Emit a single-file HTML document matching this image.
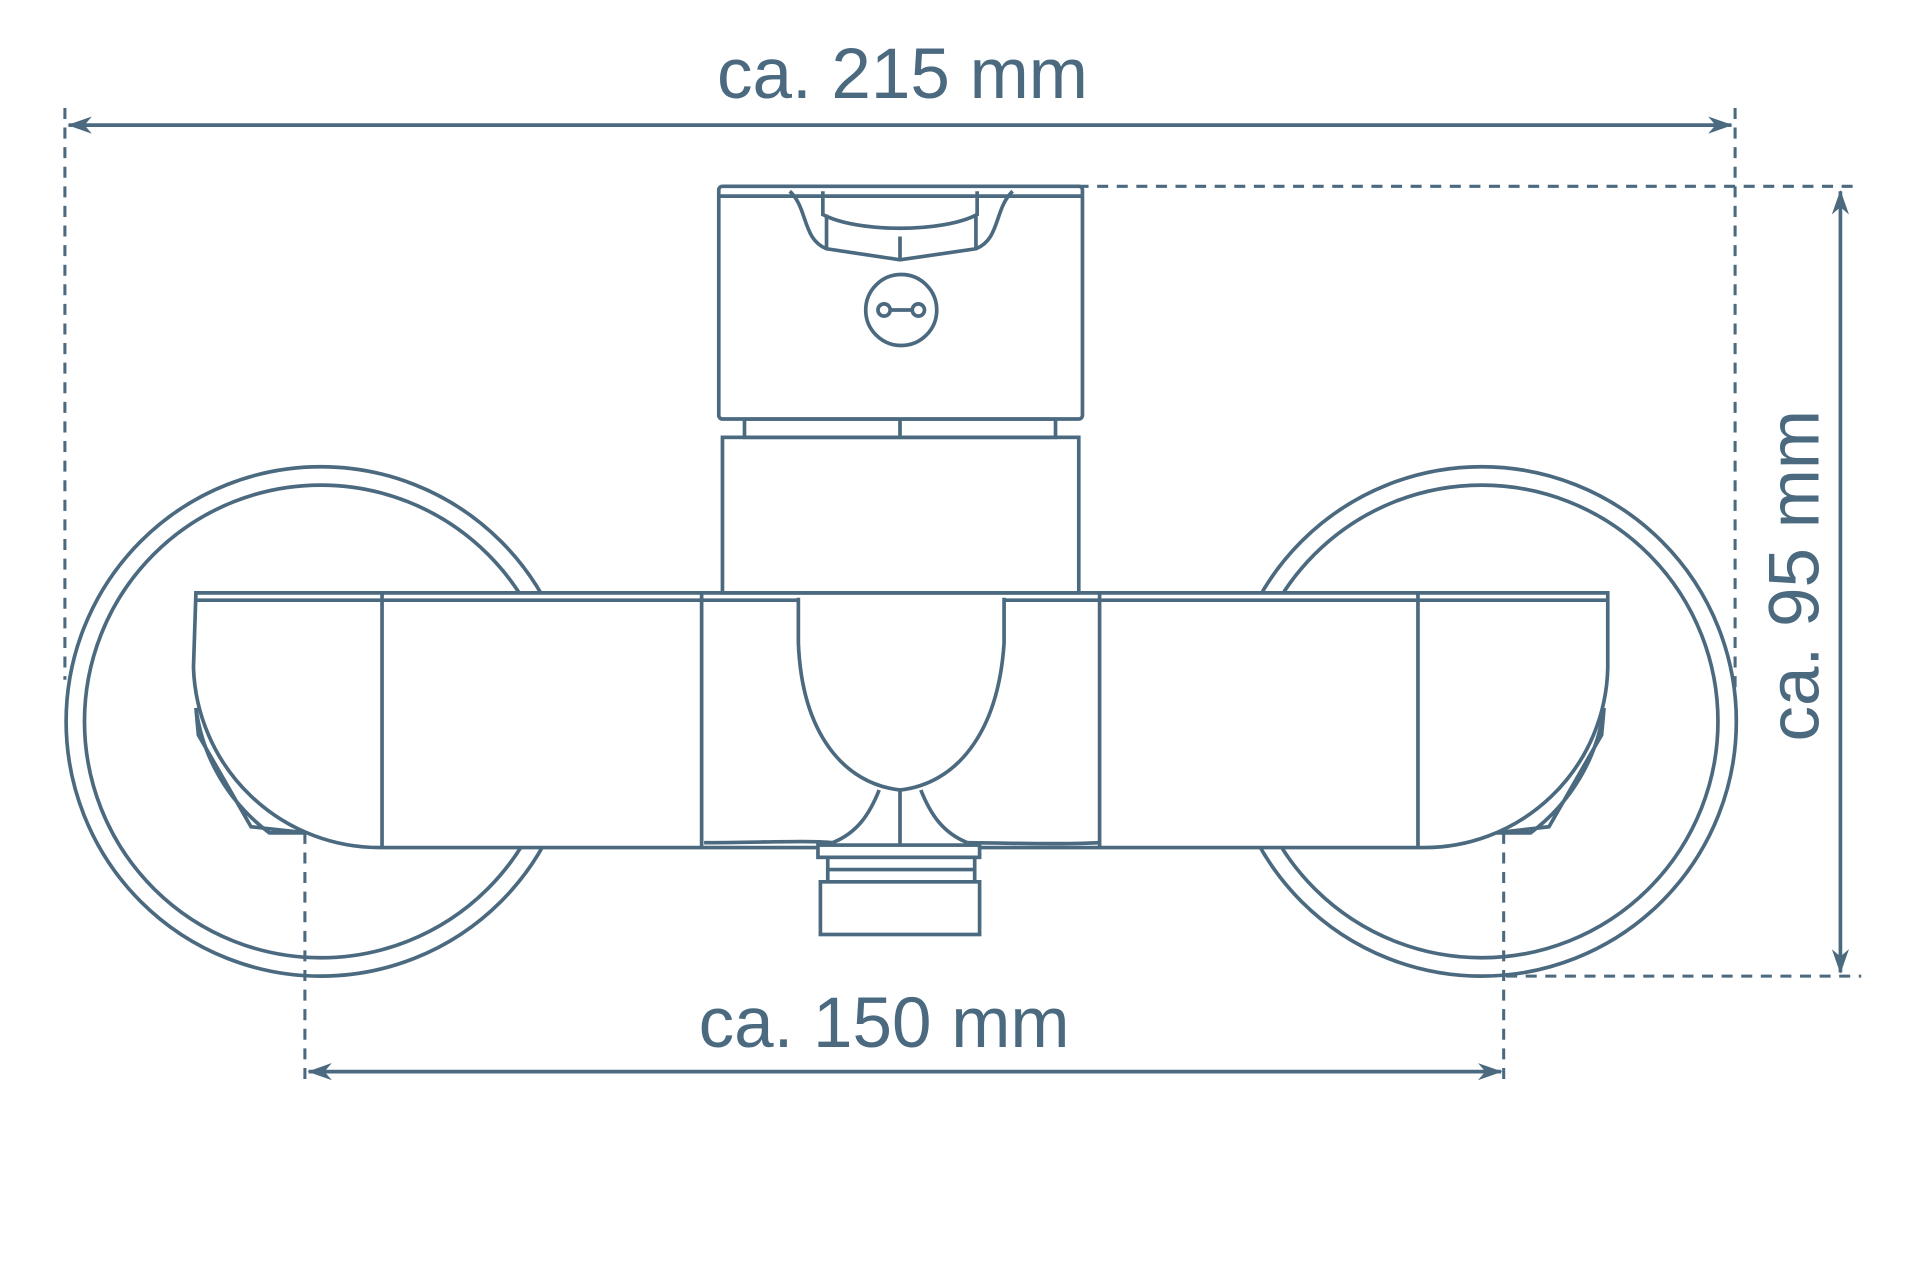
<!DOCTYPE html>
<html><head><meta charset="utf-8"><style>
html,body{margin:0;padding:0;background:#fff;width:1920px;height:1280px;overflow:hidden}
svg{display:block}
text{font-family:"Liberation Sans",sans-serif;fill:#4b6a80}
</style></head><body>
<svg width="1920" height="1280" viewBox="0 0 1568 1045" xmlns="http://www.w3.org/2000/svg">
<defs>
<marker id="a" viewBox="0 0 20 14" refX="19" refY="7" markerWidth="20" markerHeight="14" markerUnits="userSpaceOnUse" orient="auto-start-reverse">
<path d="M0,0 L20,7 L0,14 L6,7 Z" fill="#4b6a80"/></marker>
</defs>
<g stroke="#4b6a80" stroke-width="3" fill="none">
<!-- dashed guides -->
<g stroke-dasharray="9,7" stroke-width="2.5">
<line x1="53" y1="88" x2="53" y2="555"/>
<line x1="1417" y1="88" x2="1417" y2="570"/>
<line x1="880" y1="152" x2="1520" y2="152"/>
<line x1="1230" y1="797" x2="1520" y2="797"/>
<line x1="249" y1="680" x2="249" y2="888"/>
<line x1="1228" y1="680" x2="1228" y2="888"/>
</g>
<!-- dimension lines -->
<line x1="56" y1="102" x2="1414" y2="102" marker-start="url(#a)" marker-end="url(#a)"/>
<line x1="1503" y1="156" x2="1503" y2="794" marker-start="url(#a)" marker-end="url(#a)"/>
<line x1="252" y1="875" x2="1226" y2="875" marker-start="url(#a)" marker-end="url(#a)"/>
<!-- circles -->
<circle cx="262" cy="589" r="208"/><circle cx="262" cy="589" r="193"/>
<circle cx="1210" cy="589" r="208"/><circle cx="1210" cy="589" r="193"/>
<!-- body -->
<path fill="#fff" d="M160,484 L1313,484 L1313,545 A150,150 0 0 1 1160,692 L312,692 A152,152 0 0 1 158,545 Z"/>
<path fill="#fff" d="M160,578 L162,600 L205,675 L250,680 L220,680 A152,152 0 0 1 160,578 Z"/>
<path fill="#fff" d="M1310,578 L1308,600 L1265,675 L1222,680 L1250,680 A152,152 0 0 0 1310,578 Z"/>
<line x1="160" y1="490" x2="1313" y2="490"/>
<line x1="312" y1="484" x2="312" y2="692"/>
<line x1="573" y1="484" x2="573" y2="692"/>
<line x1="898" y1="484" x2="898" y2="692"/>
<line x1="1158" y1="484" x2="1158" y2="692"/>
<!-- handle center -->
<path fill="#fff" d="M652,488 L652,525 C655,600 690,640 735,645 C780,640 815,600 820,525 L820,488"/>
<path d="M718,645 C710,665 700,680 680,688 M752,645 C760,665 770,680 790,688 M735,645 L735,690"/>
<path d="M575,688 C620,688 660,686 680,688 M790,688 C820,688 860,690 897,688"/>
<!-- top cartridge -->
<rect x="590" y="357" width="291" height="127" fill="#fff"/>
<rect x="608" y="342" width="254" height="15" fill="#fff"/>
<line x1="735" y1="342" x2="735" y2="357"/>
<rect x="587" y="152" width="297" height="190" rx="3" fill="#fff"/>
<line x1="587" y1="160" x2="884" y2="160"/>
<path d="M645,156 C660,170 655,195 675,203 L735,212 L797,203 C817,195 812,170 827,156"/>
<path d="M672,156 L672,175 C700,190 770,190 798,175 L798,156"/>
<path d="M735,193 L735,212 M675,175 L675,203 M797,175 L797,203"/>
<circle cx="736" cy="253" r="29"/>
<circle cx="722" cy="253" r="5"/><circle cx="750" cy="253" r="5"/>
<line x1="727" y1="253" x2="745" y2="253"/>
<!-- outlet -->
<rect x="668" y="690" width="132" height="10" fill="#fff"/>
<rect x="676" y="700" width="120" height="20" fill="#fff"/>
<rect x="670" y="720" width="130" height="43" fill="#fff"/>
<line x1="676" y1="710" x2="796" y2="710"/>
</g>
<text x="737" y="80" font-size="58" text-anchor="middle">ca. 215 mm</text>
<text x="722" y="855" font-size="58" text-anchor="middle">ca. 150 mm</text>
<text x="0" y="0" font-size="58" text-anchor="middle" transform="translate(1485,470) rotate(-90)">ca. 95 mm</text>
</svg>
</body></html>
